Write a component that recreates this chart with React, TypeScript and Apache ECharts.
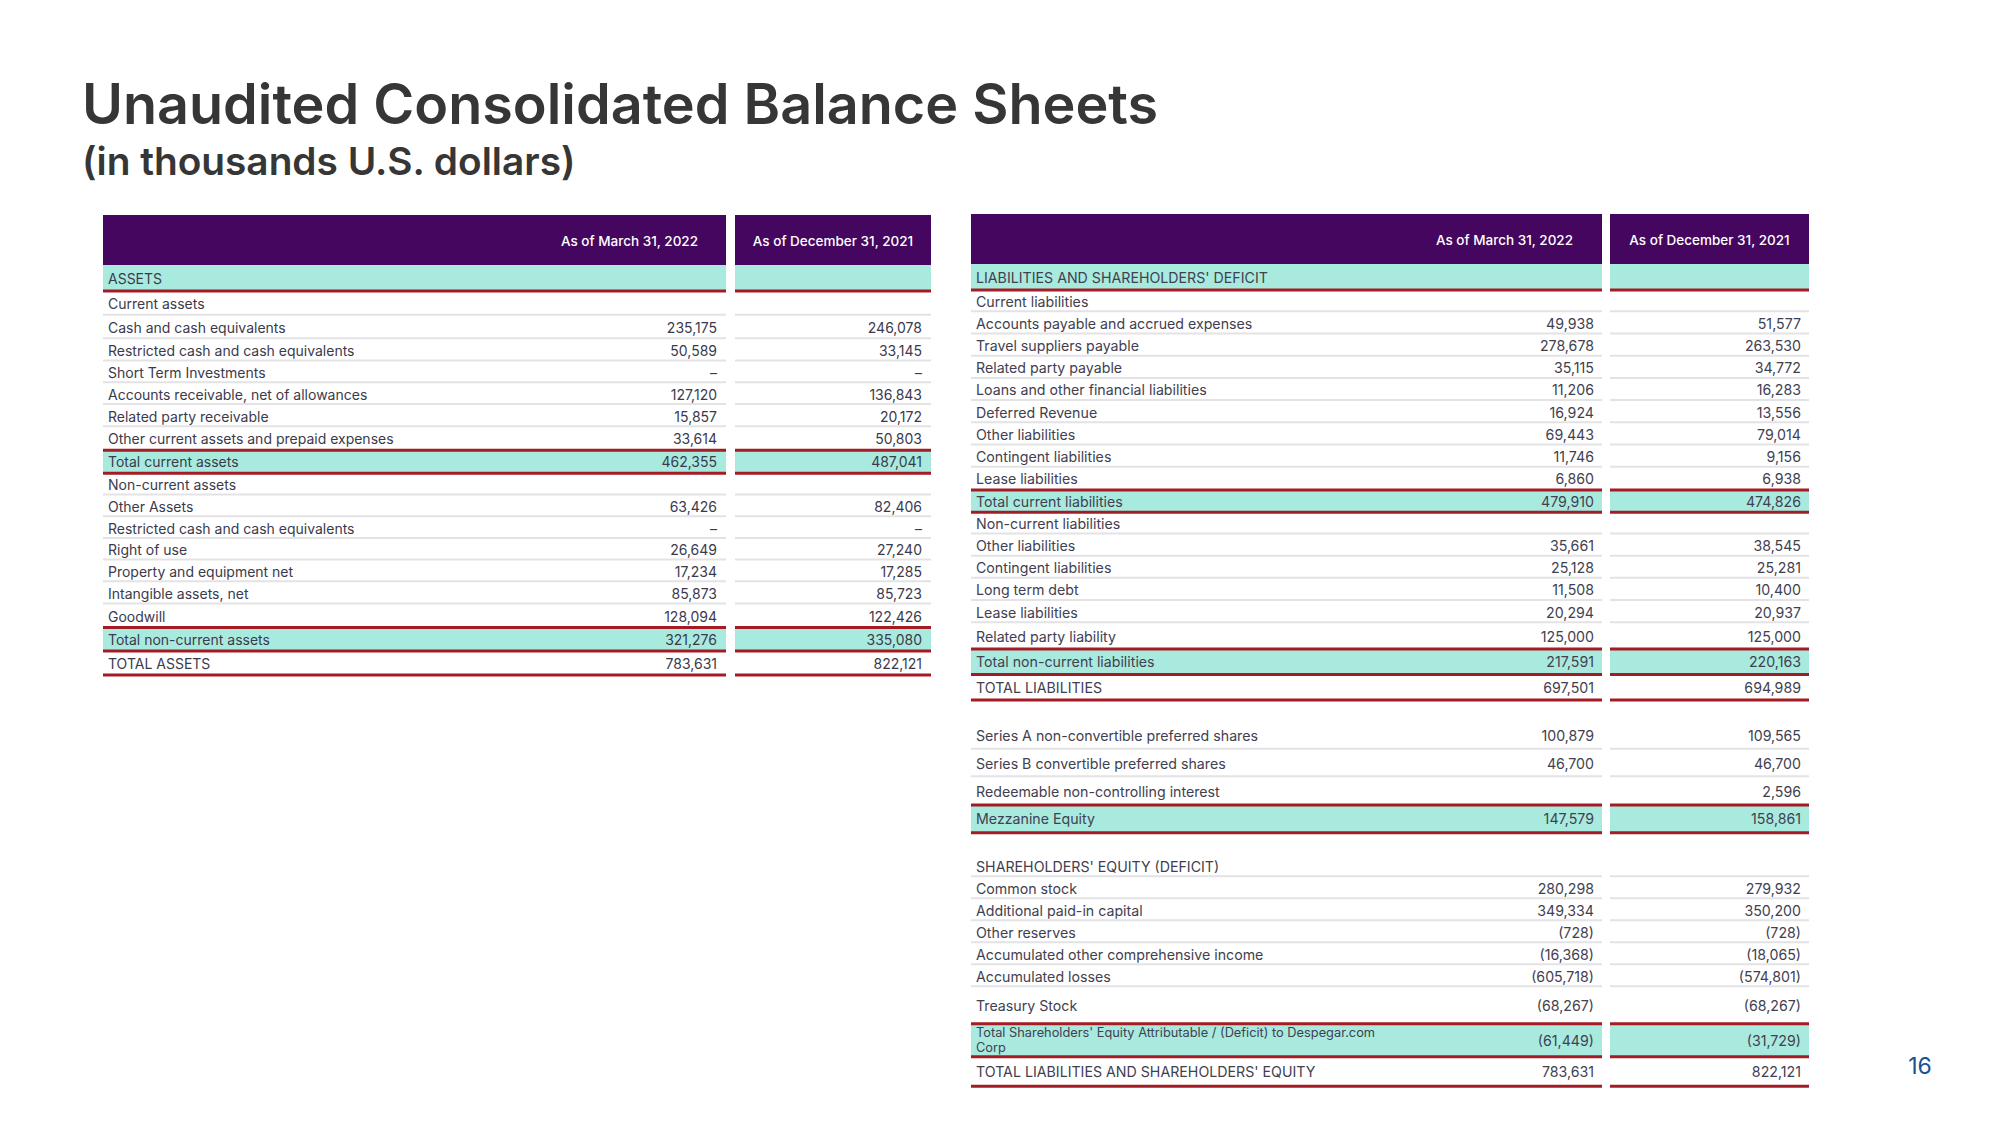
import React, { useEffect, useRef } from "react";
import * as echarts from "echarts";

// ---------- Data ----------
const titleText = "Unaudited Consolidated Balance Sheets";
const subtitleText = "(in thousands U.S. dollars)";
const pageNumber = "16";
const headerMar = "As of March 31, 2022";
const headerDec = "As of December 31, 2021";

type Val = number | string | null;

const leftLabels = [
  "ASSETS",
  "Current assets",
  "Cash and cash equivalents",
  "Restricted cash and cash equivalents",
  "Short Term Investments",
  "Accounts receivable, net of allowances",
  "Related party receivable",
  "Other current assets and prepaid expenses",
  "Total current assets",
  "Non-current assets",
  "Other Assets",
  "Restricted cash and cash equivalents",
  "Right of use",
  "Property and equipment net",
  "Intangible assets, net",
  "Goodwill",
  "Total non-current assets",
  "TOTAL ASSETS",
];
const leftKinds = [
  "head", "sub", "item", "item", "item", "item", "item", "item", "total",
  "sub", "item", "item", "item", "item", "item", "item", "total", "grand",
];
const leftMar22: Val[] = [
  null, null, 235175, 50589, "–", 127120, 15857, 33614, 462355,
  null, 63426, "–", 26649, 17234, 85873, 128094, 321276, 783631,
];
const leftDec21: Val[] = [
  null, null, 246078, 33145, "–", 136843, 20172, 50803, 487041,
  null, 82406, "–", 27240, 17285, 85723, 122426, 335080, 822121,
];

const rightLabels = [
  "LIABILITIES AND SHAREHOLDERS' DEFICIT",
  "Current liabilities",
  "Accounts payable and accrued expenses",
  "Travel suppliers payable",
  "Related party payable",
  "Loans and other financial liabilities",
  "Deferred Revenue",
  "Other liabilities",
  "Contingent liabilities",
  "Lease liabilities",
  "Total current liabilities",
  "Non-current liabilities",
  "Other liabilities",
  "Contingent liabilities",
  "Long term debt",
  "Lease liabilities",
  "Related party liability",
  "Total non-current liabilities",
  "TOTAL LIABILITIES",
  "Series A non-convertible preferred shares",
  "Series B convertible preferred shares",
  "Redeemable non-controlling interest",
  "Mezzanine Equity",
  "SHAREHOLDERS' EQUITY (DEFICIT)",
  "Common stock",
  "Additional paid-in capital",
  "Other reserves",
  "Accumulated other comprehensive income",
  "Accumulated losses",
  "Treasury Stock",
  "Total Shareholders' Equity Attributable / (Deficit) to Despegar.com\nCorp",
  "TOTAL LIABILITIES AND SHAREHOLDERS' EQUITY",
];
const rightKinds = [
  "head", "sub", "item", "item", "item", "item", "item", "item", "item", "item", "total",
  "sub", "item", "item", "item", "item", "item", "total", "grand",
  "item", "item", "item", "total",
  "sub", "item", "item", "item", "item", "item", "item", "total", "grand",
];
const rightMar22: Val[] = [
  null, null, 49938, 278678, 35115, 11206, 16924, 69443, 11746, 6860, 479910,
  null, 35661, 25128, 11508, 20294, 125000, 217591, 697501,
  100879, 46700, null, 147579,
  null, 280298, 349334, -728, -16368, -605718, -68267, -61449, 783631,
];
const rightDec21: Val[] = [
  null, null, 51577, 263530, 34772, 16283, 13556, 79014, 9156, 6938, 474826,
  null, 38545, 25281, 10400, 20937, 125000, 220163, 694989,
  109565, 46700, 2596, 158861,
  null, 279932, 350200, -728, -18065, -574801, -68267, -31729, 822121,
];

// ---------- Layout / style ----------
const PURPLE = "#45065f";
const TEAL = "#a9eadf";
const RED = "#a31c25";
const GRAY = "#e3e3e6";
const TEXT = "#3b3a4c";
const TEXT_R = "#414050";
const FONT = "Inter, 'Noto Sans', sans-serif";

const leftHeights = [
  26, 24.7, 23.6, 22.3, 21.7, 21.7, 22.3, 23, 22.9,
  22.4, 21.7, 21.6, 21.7, 21.7, 22.3, 22.9, 23.5, 24,
];
const rightHeights = [
  26, ...Array(15).fill(22.22), 25.6, 25.6, 25.6,
  27.6, 27.6, 27.6, 27.8,
  22, 22, 22, 22, 22, 22, 36.5, 33, 29.5,
];
const rightGaps: Record<number, number> = { 19: 22, 23: 22.5 };

const leftLayout = {
  x0: 103, x1: 726, x2: 735, x3: 931, headTop: 215, headBottom: 265,
  font: 14, pad: 9, headPad: 28, color: TEXT,
};
const rightLayout = {
  x0: 971, x1: 1602, x2: 1610, x3: 1809, headTop: 214, headBottom: 264,
  font: 14.2, pad: 8, headPad: 29, color: TEXT_R,
};

function fmt(v: Val): string {
  if (v === null) return "";
  if (typeof v === "string") return v;
  const s = Math.abs(v).toLocaleString("en-US");
  return v < 0 ? "(" + s + ")" : s;
}

function rect(x: number, y: number, w: number, h: number, fill: string) {
  return { type: "rect", shape: { x, y, width: w, height: h }, style: { fill }, silent: true };
}

function text(x: number, y: number, t: string, size: number, fill: string, align: string, weight: any = 400, lineHeight?: number) {
  return {
    type: "text",
    x,
    y,
    silent: true,
    style: {
      text: t,
      fill,
      fontSize: size,
      fontFamily: FONT,
      fontWeight: weight,
      align,
      verticalAlign: "middle",
      textAlign: align,
      textVerticalAlign: "middle",
      lineHeight: lineHeight,
    },
  };
}

function buildTable(
  lay: any,
  labels: string[],
  kinds: string[],
  mar: Val[],
  dec: Val[],
  heights: number[],
  gaps: Record<number, number>
) {
  const bg: any[] = [];
  const lines: any[] = [];
  const texts: any[] = [];
  const hh = lay.headBottom - lay.headTop;
  bg.push(rect(lay.x0, lay.headTop, lay.x1 - lay.x0, hh, PURPLE));
  bg.push(rect(lay.x2, lay.headTop, lay.x3 - lay.x2, hh, PURPLE));
  const hm = lay.headTop + hh / 2 + 1;
  texts.push(text(lay.x1 - lay.headPad, hm, headerMar, 13.5, "#ffffff", "right", 500));
  texts.push(text((lay.x2 + lay.x3) / 2, hm, headerDec, 13.5, "#ffffff", "center", 500));

  let y = lay.headBottom;
  labels.forEach((label, i) => {
    y += gaps[i] || 0;
    const h = heights[i];
    const kind = kinds[i];
    if (kind === "head" || kind === "total") {
      bg.push(rect(lay.x0, y, lay.x1 - lay.x0, h, TEAL));
      bg.push(rect(lay.x2, y, lay.x3 - lay.x2, h, TEAL));
    }
    const bottom = y + h;
    const redLine = kind === "head" || kind === "total" || kind === "grand" || kinds[i + 1] === "total";
    if (redLine) {
      lines.push(rect(lay.x0, bottom - 1.5, lay.x1 - lay.x0, 3, RED));
      lines.push(rect(lay.x2, bottom - 1.5, lay.x3 - lay.x2, 3, RED));
    } else {
      lines.push(rect(lay.x0, bottom - 2, lay.x1 - lay.x0, 2, GRAY));
      lines.push(rect(lay.x2, bottom - 2, lay.x3 - lay.x2, 2, GRAY));
    }
    const cy = y + h / 2;
    const multi = label.indexOf("\n") >= 0;
    texts.push(
      text(lay.x0 + 5, cy, label, multi ? 12.8 : lay.font, lay.color, "left", 400, multi ? 15.5 : undefined)
    );
    const m = fmt(mar[i]);
    const d = fmt(dec[i]);
    if (m) texts.push(text(lay.x1 - lay.pad, cy, m, lay.font, lay.color, "right"));
    if (d) texts.push(text(lay.x3 - lay.pad, cy, d, lay.font, lay.color, "right"));
    y = bottom;
  });
  return [...bg, ...lines, ...texts];
}

export default function App() {
  const ref = useRef<HTMLDivElement>(null);
  useEffect(() => {
    if (!ref.current) return;
    const chart = echarts.init(ref.current, undefined, { renderer: "svg" });
    const elements: any[] = [
      text(82, 103, titleText, 55.7, "#363636", "left", 600),
      text(82, 160, subtitleText, 38.8, "#363636", "left", 600),
      ...buildTable(leftLayout, leftLabels, leftKinds, leftMar22, leftDec21, leftHeights, {}),
      ...buildTable(rightLayout, rightLabels, rightKinds, rightMar22, rightDec21, rightHeights, rightGaps),
      text(1920, 1066, pageNumber, 23, "#1d4f8f", "center", 400),
    ];
    chart.setOption({
      animation: false,
      backgroundColor: "#ffffff",
      graphic: { elements },
    });
    return () => chart.dispose();
  }, []);
  return (
    <div
      ref={ref}
      style={{ position: "fixed", left: 0, top: 0, width: 2000, height: 1125, background: "#fff" }}
    />
  );
}
